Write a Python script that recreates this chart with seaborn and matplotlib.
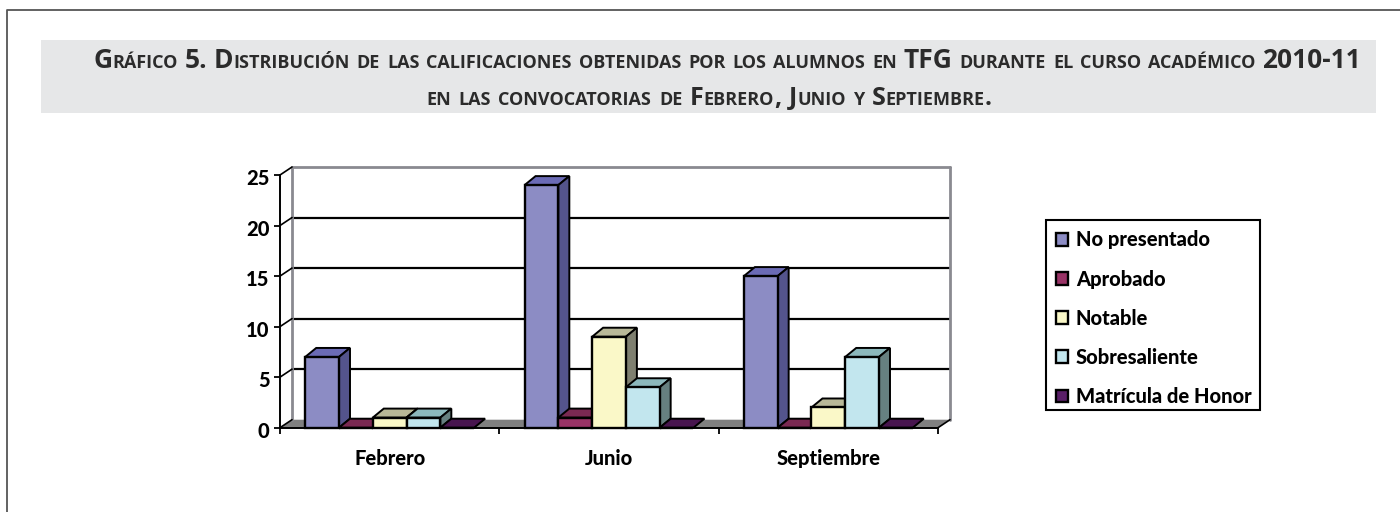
import matplotlib
matplotlib.use("Agg")
import matplotlib.pyplot as plt
import seaborn as sns
import pandas as pd
from matplotlib.patches import Polygon, Patch, Rectangle
from matplotlib.lines import Line2D
from matplotlib.transforms import Affine2D, ScaledTranslation

convocatorias = ["Febrero", "Junio", "Septiembre"]
calificaciones = ["No presentado", "Aprobado", "Notable", "Sobresaliente", "Matrícula de Honor"]
no_presentado = [7, 24, 15]
aprobado = [0, 1, 0]
notable = [1, 9, 2]
sobresaliente = [1, 4, 7]
matricula = [0, 0, 0]
yticks = [0, 5, 10, 15, 20, 25]
title_line_1 = "Gráfico 5. Distribución de las calificaciones obtenidas por los alumnos en TFG durante el curso académico 2010-11"
title_line_2 = "en las convocatorias de Febrero, Junio y Septiembre."

front = ["#8C8CC4", "#993366", "#FAF8C8", "#C2E6EE", "#5A1F68"]
top = ["#6B6BB5", "#7A2952", "#B8B898", "#8CB8BC", "#48154F"]
side = ["#54548C", "#5E2040", "#7F8070", "#668080", "#38103E"]

W, H = 1400, 512
LABEL_WEIGHT = 900
sns.set_theme(style="white")
plt.rcParams["font.family"] = ["Lato", "DejaVu Sans"]
fig = plt.figure(figsize=(W / 100, H / 100), dpi=100, facecolor="white")

def px_x(x): return x / W
def px_y(y): return 1 - y / H

# page frame, title band and legend box
fig.add_artist(Line2D([px_x(7), px_x(7), px_x(1400)], [px_y(512), px_y(10), px_y(10)],
                      transform=fig.transFigure, color="#555555", lw=1.3))
fig.add_artist(Rectangle((px_x(41), px_y(113)), 1335 / W, 73 / H, transform=fig.transFigure,
                         facecolor="#E6E7E8", edgecolor="none", zorder=-2))
fig.add_artist(Rectangle((px_x(1046), px_y(410)), 214 / W, 190.5 / H, transform=fig.transFigure,
                         facecolor="white", edgecolor="black", lw=1.5, zorder=-2))

ax = fig.add_axes([px_x(280), px_y(427.7), 658 / W, 252.7 / H])
ax.patch.set_alpha(0)
df = pd.DataFrame({
    "Convocatoria": convocatorias * 5,
    "Calificación": [c for c in calificaciones for _ in convocatorias],
    "Alumnos": no_presentado + aprobado + notable + sobresaliente + matricula,
})
sns.barplot(data=df, x="Convocatoria", y="Alumnos", hue="Calificación", hue_order=calificaciones,
            palette=front, width=0.77, gap=0, saturation=1, edgecolor="black", linewidth=1.7,
            legend=False, ax=ax, zorder=10)
ax.set_xlim(-0.5, 2.5)
ax.set_ylim(0, 25)
ax.set_xlabel("")
ax.set_ylabel("")
for s in ax.spines.values():
    s.set_visible(False)
for s in ("left", "bottom"):
    ax.spines[s].set_visible(True)
    ax.spines[s].set_color("black")
    ax.spines[s].set_linewidth(1.4)
    ax.spines[s].set_zorder(30)

wall = ax.transData + Affine2D().translate(12, 8)
depth = ax.transData + Affine2D().translate(11, 9)
x0, x1 = ax.get_xlim()
pix = Affine2D()
p = lambda x, y: tuple(ax.transData.transform((x, y)))
b = lambda x, y: tuple(wall.transform((x, y)))
q = lambda x, y: tuple(depth.transform((x, y)))

# floor, back wall and gridlines
ax.add_patch(Polygon([p(x0, 0), p(x1, 0), b(x1, 0), b(x0, 0)], closed=True, facecolor="#808080",
                     edgecolor="none", zorder=1, clip_on=False, transform=pix))
for v in yticks:
    if v == 25:
        ax.plot([x0, x1], [v, v], transform=wall, color="#8A8A90", lw=2, zorder=2, clip_on=False)
    elif v > 0:
        ax.plot([x0, x1], [v, v], transform=wall, color="black", lw=1.6, zorder=2, clip_on=False)
    a0, a1 = p(x0, v), b(x0, v)
    ax.add_line(Line2D([a0[0], a1[0]], [a0[1], a1[1]], transform=pix, color="black", lw=1.2,
                       zorder=3, clip_on=False))
ax.plot([x0, x0], [0, 25], transform=wall, color="#8A8A90", lw=2, zorder=2, clip_on=False)
ax.plot([x1, x1], [0, 25], transform=wall, color="#8A8A90", lw=2, zorder=2, clip_on=False)
a0, a1 = p(x1, 0), b(x1, 0)
ax.add_line(Line2D([a0[0], a1[0]], [a0[1], a1[1]], transform=pix, color="black", lw=1.2, zorder=3, clip_on=False))

# 3-D faces derived from the seaborn bars
bars = []
for i, cont in enumerate(ax.containers):
    for rect in cont:
        bars.append((rect.get_x(), i, rect))
bars.sort(key=lambda t: t[0])
z = 10
for bx, i, rect in bars:
    w, h = rect.get_width(), rect.get_height()
    ax.add_patch(Polygon([p(bx, h), p(bx + w, h), q(bx + w, h), q(bx, h)], closed=True, facecolor=top[i],
                         edgecolor="black", lw=1.4, zorder=z, clip_on=False, transform=pix))
    if h > 0:
        ax.add_patch(Polygon([p(bx + w, 0), q(bx + w, 0), q(bx + w, h), p(bx + w, h)], closed=True,
                             facecolor=side[i], edgecolor="black", lw=1.4, zorder=z, clip_on=False,
                             transform=pix))
    rect.set_zorder(z + 0.5)
    rect.set_clip_on(False)
    z += 1

# ticks
ax.set_yticks(yticks)
ax.set_xticks([-0.5, 0.5, 1.5, 2.5], minor=True)
ax.tick_params(axis="x", which="major", length=0, pad=15, labelsize=14.5, labelcolor="black")
ax.tick_params(axis="x", which="minor", length=4.5, width=1.3, color="black", bottom=True)
ax.tick_params(axis="y", which="major", length=4.5, width=1.3, color="black", left=True, pad=3,
               labelsize=14.5, labelcolor="black")
for t in ax.get_xticklabels() + ax.get_yticklabels():
    t.set_fontweight(LABEL_WEIGHT)
shift = ScaledTranslation(0, -2 / 100, fig.dpi_scale_trans)
for t in ax.get_yticklabels():
    t.set_transform(t.get_transform() + shift)

# legend (its box is the rectangle drawn above)
handles = [Patch(facecolor=c, edgecolor="black", lw=1.7) for c in front]
leg = ax.legend(handles, calificaciones, loc="center left",
                bbox_to_anchor=(px_x(1046), px_y(413.5), 214 / W, 190.5 / H),
                bbox_transform=fig.transFigure, mode="expand", borderaxespad=0, frameon=False,
                prop={"family": "Lato", "weight": LABEL_WEIGHT, "size": 14.5},
                handlelength=0.6, handleheight=0.6, handletextpad=0.38, labelspacing=1.0,
                borderpad=0.5, labelcolor="black")
leg.set_zorder(40)

# small-caps title, real text laid out run by run
renderer = fig.canvas.get_renderer()
TITLE_COLOR = "#2B2B2B"

def runs(s):
    out, cur, last = [], "", None
    for ch in s:
        kind = "space" if ch == " " else ("small" if ch.islower() else "big")
        if kind != last and cur:
            out.append((cur, last))
            cur = ""
        cur += ch
        last = kind
    out.append((cur, last))
    return out

def width(txt, size):
    t = fig.text(0, 0, txt, fontsize=size, fontweight="bold", family="Open Sans")
    w = t.get_window_extent(renderer).width
    t.remove()
    return w

def draw_line(s, x_left, x_right, base, big_size, small_size):
    rs = runs(s)
    widths = []
    nsp = 0
    for txt, kind in rs:
        if kind == "space":
            nsp += 1
            widths.append(0)
        else:
            widths.append(width(txt.upper() if kind == "small" else txt, small_size if kind == "small" else big_size))
    gap = (x_right - x_left - sum(widths)) / nsp
    x = x_left
    for (txt, kind), w in zip(rs, widths):
        if kind == "space":
            x += gap
            continue
        fig.text(px_x(x), px_y(base), txt.upper() if kind == "small" else txt, ha="left", va="baseline",
                 fontsize=small_size if kind == "small" else big_size, fontweight="bold",
                 family="Open Sans", color=TITLE_COLOR)
        x += w

draw_line(title_line_1, 93, 1361, 68, 19, 13)
draw_line(title_line_2, 426, 992, 105, 18, 13)

fig.savefig("out.png", dpi=100, facecolor="white")
